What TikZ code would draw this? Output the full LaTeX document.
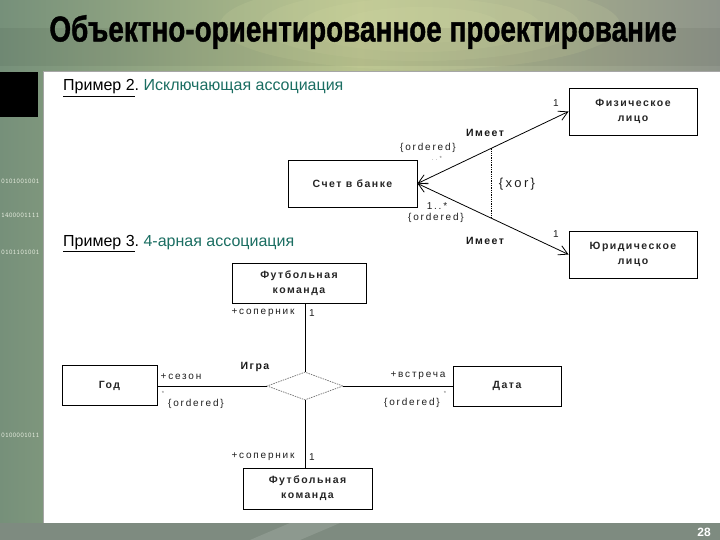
\documentclass[tikz,border=0pt]{standalone}
\usepackage{fontspec}
\setmainfont{Liberation Sans}
\newfontfamily\boxfont[LetterSpace=14]{Liberation Sans}
\newfontfamily\labfont[LetterSpace=18]{Liberation Sans}
\newfontfamily\titlefont[BoldFeatures={FakeBold=1.2}]{Liberation Sans}
\usetikzlibrary{arrows.meta,shapes.geometric,calc}
\definecolor{teal1}{HTML}{1B6E62}
\definecolor{bgleft}{HTML}{76907A}
\definecolor{bgmid}{HTML}{B9C38E}
\definecolor{bgright}{HTML}{8E948A}
\definecolor{strip}{HTML}{7E8B80}
\definecolor{binary}{HTML}{E4EBDD}
\definecolor{glow}{HTML}{D3DAA4}
\tikzset{
  cls/.style={draw, line width=0.9pt, inner sep=0pt, align=center, text=black!85,
    font=\boxfont\bfseries\fontsize{10.5}{15}\selectfont},
  lab/.style={inner sep=0pt, text=black!88, font=\labfont\fontsize{10}{12}\selectfont},
  lbold/.style={inner sep=0pt, text=black!90, font=\boxfont\bfseries\fontsize{10.5}{12}\selectfont},
  faint/.style={inner sep=0pt, text=black!55, font=\fontsize{6}{6}\selectfont},
  assoc/.style={line width=0.8pt, <->, >={Straight Barb[length=9pt,width=10pt]}},
  line/.style={line width=0.8pt},
  bin/.style={anchor=west, inner sep=0pt, text=binary, font=\ttfamily\fontsize{7.2}{8}\selectfont},
  subtitle/.style={anchor=base west, inner sep=0pt, font=\fontsize{16}{18}\selectfont}
}
\begin{document}
\begin{tikzpicture}[x=1pt,y=-1pt]
\useasboundingbox (0,0) rectangle (720,540);
\clip (0,0) rectangle (720,540);
% background
\shade[left color=bgleft, right color=bgright, middle color=bgmid] (0,0) rectangle (720,540);
\foreach \r in {1.0,0.8,0.6,0.4} {
  \fill[glow, opacity=0.16] (420,25) ellipse ({200*\r} and {45*\r});
}
\fill[black, opacity=0.05] (0,28) rectangle (720,66);
\node[bin] at (1,181) {0101001001};
\node[bin] at (1,215) {1400001111};
\node[bin] at (1,252) {0101101001};
\node[bin] at (1,435) {0100001011};
\fill[black] (0,72) rectangle (38,117);
\fill[strip] (0,523) rectangle (720,540);
\fill[white, opacity=0.12] (250,540) -- (290,523) -- (340,523) -- (300,540) -- cycle;
\fill[white] (43,71) rectangle (720,523);
\draw[black!35, line width=0.5pt] (43,523) -- (43,71) -- (720,71);
% title
\node[inner sep=0pt] (title) at (363,32)
  {\scalebox{0.93}[1.2]{\titlefont\bfseries\fontsize{30}{30}\selectfont Объектно-ориентированное проектирование}};
\node[inner sep=0pt, text=white, font=\bfseries\fontsize{12}{12}\selectfont] (page) at (704,532) {28};
% subtitles
\node[subtitle] (ex2) at (63,91) {\underline{Пример 2}.\ \textcolor{teal1}{Исключающая ассоциация}};
\node[subtitle] (ex3) at (63,246) {\underline{Пример 3}.\ \textcolor{teal1}{4-арная ассоциация}};
% example 2
\node[cls, minimum width=128pt, minimum height=47pt] (fiz) at (633,111.5) {Физическое\\лицо};
\node[cls, minimum width=128pt, minimum height=47pt] (jur) at (633,254.5) {Юридическое\\лицо};
\node[cls, minimum width=129pt, minimum height=47pt] (schet) at (352.5,183.5) {Счет в банке};
\draw[assoc] (schet.east) -- coordinate[pos=0.49] (m1) (fiz.west);
\draw[assoc] (schet.east) -- coordinate[pos=0.49] (m2) (jur.west);
\draw[densely dotted, line width=1.3pt] (m1) -- (m2);
\node[lab] (n1) at (556,103) {1};
\node[lbold] (im1) at (485,133) {Имеет};
\node[lab] (o1) at (428,148) {\{ordered\}};
\node[faint] (s1) at (437,158) {. . *};
\node[lab] (m12) at (437,206) {1..*};
\node[lab] (o2) at (436,218) {\{ordered\}};
\node[lbold] (im2) at (485,241) {Имеет};
\node[lab] (n2) at (556,234) {1};
\node[lab, font=\labfont\fontsize{13}{14}\selectfont] (xor) at (517,184) {\{xor\}};
% example 3
\node[cls, minimum width=134pt, minimum height=40pt] (top) at (299,283.5) {Футбольная\\команда};
\node[cls, minimum width=129pt, minimum height=41pt] (bot) at (307.5,488.5) {Футбольная\\команда};
\node[cls, minimum width=95pt, minimum height=40pt] (god) at (109.5,385.5) {Год};
\node[cls, minimum width=108pt, minimum height=40pt] (data) at (507,386) {Дата};
\node[draw=black!55, dash pattern=on 1.5pt off 1pt, line width=0.7pt, diamond, aspect=2.7,
  minimum width=76pt, minimum height=28pt, inner sep=0pt] (dia) at (305,386) {};
\draw[line] (dia.north) -- (dia.north |- top.south);
\draw[line] (dia.south) -- (dia.south |- bot.north);
\draw[line] (dia.west) -- (dia.west -| god.east);
\draw[line] (dia.east) -- (dia.east -| data.west);
\node[lab] (r1) at (263,313) {+соперник};
\node[lab] (r1n) at (312,313) {1};
\node[lbold] (igra) at (255,367) {Игра};
\node[lab] (sez) at (181,377) {+сезон};
\node[faint] (st1) at (163,393) {*};
\node[lab] (o3) at (196,404) {\{ordered\}};
\node[lab] (vs) at (418,376) {+встреча};
\node[lab] (o4) at (412,403) {\{ordered\}};
\node[faint] (st2) at (445,393) {*};
\node[lab] (r2) at (263,457) {+соперник};
\node[lab] (r2n) at (312,457) {1};
\end{tikzpicture}
\end{document}
